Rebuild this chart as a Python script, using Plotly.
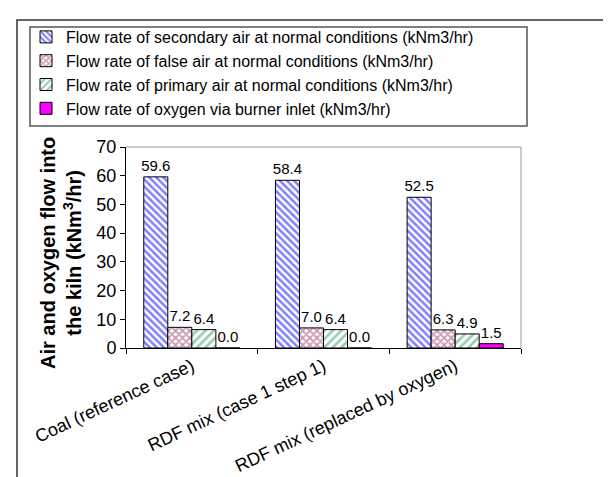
import plotly.graph_objects as go

categories = ["Coal (reference case)", "RDF mix (case 1 step 1)", "RDF mix (replaced by oxygen)"]
secondary_air = [59.6, 58.4, 52.5]
false_air = [7.2, 7.0, 6.3]
primary_air = [6.4, 6.4, 4.9]
oxygen = [0.0, 0.0, 1.5]
series_names = [
    "Flow rate of secondary air at normal conditions (kNm3/hr)",
    "Flow rate of false air at normal conditions (kNm3/hr)",
    "Flow rate of primary air at normal conditions (kNm3/hr)",
    "Flow rate of oxygen via burner inlet (kNm3/hr)",
]

W, H = 611, 477
L, R, T, B = 118, 513, 139, 340  # plot area pixel box

FONT = "Liberation Sans, Arial, sans-serif"

def px_x(p):
    return (p - L) / (R - L)

def px_y(p):
    return (B - p) / (B - T)

styles = [
    dict(shape="\\", fg="#0000FF", size=5, sol=0.5),
    dict(shape="x", fg="#993366", size=5, sol=0.6),
    dict(shape="/", fg="#2E9960", size=6, sol=0.45),
    None,
]

fig = go.Figure()
for name, vals, st in zip(series_names, [secondary_air, false_air, primary_air, oxygen], styles):
    if st is None:
        marker = dict(color="#FF00FF", line=dict(color="black", width=1))
    else:
        marker = dict(color="white", line=dict(color="black", width=1),
                      pattern=dict(shape=st["shape"], fgcolor=st["fg"], bgcolor="white",
                                   size=st["size"], solidity=st["sol"], fillmode="overlay"))
    fig.add_trace(go.Bar(
        x=categories, y=vals, name=name, marker=marker,
        text=[f"{v:.1f}" for v in vals], textposition="outside",
        constraintext="none",
        textfont=dict(family=FONT, size=15, color="black"),
        cliponaxis=False,
    ))

fig.update_layout(
    width=W, height=H,
    margin=dict(l=L, r=W - R, t=T, b=H - B, autoexpand=False),
    paper_bgcolor="white", plot_bgcolor="white",
    barmode="group", bargap=0.27, bargroupgap=0,
    font=dict(family=FONT, size=16, color="black"),
    showlegend=True,
    legend=dict(
        xref="container", yref="container",
        x=18 / W, y=1 - 12 / H, xanchor="left", yanchor="top",
        bgcolor="rgba(0,0,0,0)", borderwidth=0,
        font=dict(family=FONT, size=16, color="black"),
        tracegroupgap=0, itemwidth=30,
    ),
    xaxis=dict(
        showline=True, linecolor="black", linewidth=1,
        ticks="outside", ticklen=5, tickcolor="black", tickson="boundaries",
        tickangle=-25, tickfont=dict(family=FONT, size=18, color="black"),
        showgrid=False, automargin=False, mirror=False,
    ),
    yaxis=dict(
        range=[0, 70], dtick=10, showline=True, linecolor="black", linewidth=1,
        ticks="outside", ticklen=5, tickcolor="black",
        tickfont=dict(family=FONT, size=18, color="black"),
        showgrid=False, zeroline=False, automargin=False,
    ),
    shapes=[
        # outer frame
        dict(type="rect", xref="paper", yref="paper",
             x0=px_x(9), x1=px_x(640), y0=px_y(500), y1=px_y(12),
             line=dict(color="#333333", width=1.5), layer="above"),
        # legend box
        dict(type="rect", xref="paper", yref="paper",
             x0=px_x(22), x1=px_x(519), y0=px_y(118), y1=px_y(19),
             line=dict(color="#555555", width=1.5), layer="above"),
        # plot area border (top and right, gray)
        dict(type="line", xref="paper", yref="paper", x0=0, x1=1, y0=1, y1=1,
             line=dict(color="#999999", width=1)),
        dict(type="line", xref="paper", yref="paper", x0=1, x1=1, y0=0, y1=1,
             line=dict(color="#999999", width=1)),
    ],
    annotations=[
        dict(text="<b>Air and oxygen flow into<br>the kiln (kNm<sup>3</sup>/hr)</b>",
             xref="paper", yref="paper", x=px_x(53), y=px_y(245),
             xanchor="center", yanchor="middle", textangle=-90, showarrow=False,
             font=dict(family=FONT, size=20, color="black"), align="center"),
    ],
)

fig.write_html("out.html")
